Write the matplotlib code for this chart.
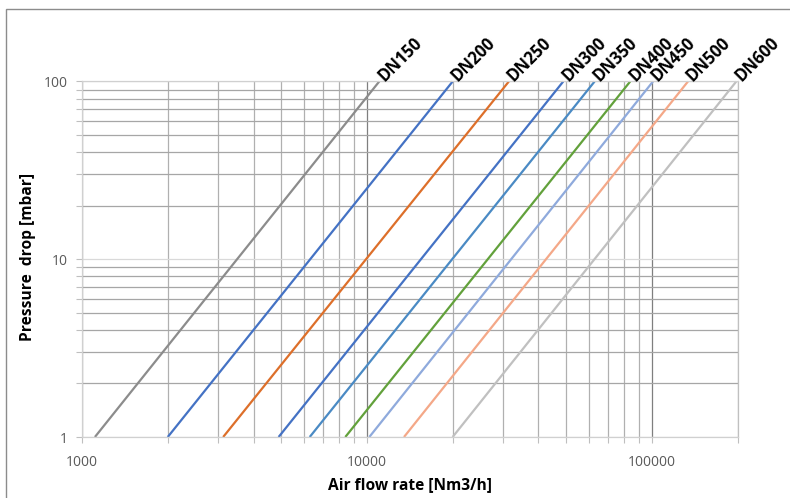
import matplotlib
matplotlib.use("Agg")
import matplotlib.pyplot as plt
from matplotlib.ticker import LogLocator, NullFormatter, FixedLocator, FixedFormatter
from matplotlib.patches import Rectangle
import numpy as np

# ---- data ----
sizes = ["DN150", "DN200", "DN250", "DN300", "DN350", "DN400", "DN450", "DN500", "DN600"]
flow_at_1mbar = [1110, 2000, 3130, 4900, 6300, 8400, 10200, 13500, 20000]
flow_at_100mbar = [11050, 20000, 31500, 48900, 63000, 84000, 101000, 134000, 198000]
pressure_ends = [1, 100]
colors = ["#8c8c8c", "#4472c4", "#dd6f2a", "#4472c4", "#4a8ac4",
          "#62a13b", "#8faadc", "#f4a888", "#c0c0c0"]
x_ticks = [1000, 10000, 100000]
x_tick_labels = ["1000", "10000", "100000"]
y_ticks = [1, 10, 100]
y_tick_labels = ["1", "10", "100"]

W, H = 790, 498
fig = plt.figure(figsize=(W / 100, H / 100), dpi=100)
plt.rcParams['font.family'] = ['Open Sans', 'DejaVu Sans']

# chart-area border (left & top visible)
fig.patches.append(Rectangle((6 / W, -0.1), 2, 1 - 9 / H + 0.1, transform=fig.transFigure,
                             fill=False, edgecolor="#8c8c8c", linewidth=1.0))

ax = fig.add_axes([82 / W, 1 - 437 / H, (737.5 - 82) / W, (437 - 81.5) / H])
ax.set_xscale("log")
ax.set_yscale("log")
ax.set_xlim(1000, 200000)
ax.set_ylim(1, 100)

# gridlines
ax.xaxis.set_major_locator(FixedLocator(x_ticks))
ax.xaxis.set_major_formatter(FixedFormatter(x_tick_labels))
ax.xaxis.set_minor_locator(LogLocator(base=10, subs=np.arange(2, 10)))
ax.xaxis.set_minor_formatter(NullFormatter())
ax.yaxis.set_major_locator(FixedLocator(y_ticks))
ax.yaxis.set_major_formatter(FixedFormatter(y_tick_labels))
ax.yaxis.set_minor_locator(LogLocator(base=10, subs=np.arange(2, 10)))
ax.yaxis.set_minor_formatter(NullFormatter())

ax.grid(True, which="major", axis="x", color="#7f7f7f", linewidth=0.9)
ax.grid(True, which="minor", axis="x", color="#b0b0b0", linewidth=0.9)
ax.grid(True, which="major", axis="y", color="#d9d9d9", linewidth=0.9)
ax.grid(True, which="minor", axis="y", color="#a6a6a6", linewidth=0.9)
ax.set_axisbelow(True)

for s in ax.spines.values():
    s.set_color("#d0d0d0")
    s.set_linewidth(0.9)
ax.spines["right"].set_color("#c0c0c0")

ax.tick_params(which="both", direction="out", length=4, width=0.8, color="#bfbfbf",
               labelsize=10, labelcolor="#595959", pad=6)
ax.tick_params(axis="x", which="major", pad=9)

for name, x0, x1, c in zip(sizes, flow_at_1mbar, flow_at_100mbar, colors):
    ax.plot([x0, x1], pressure_ends, color=c, linewidth=1.6, solid_capstyle="butt", clip_on=False)
    ax.annotate(name, xy=(x1, pressure_ends[1]), xytext=(3.5, 0), textcoords="offset points",
                rotation=45, rotation_mode="anchor", ha="left", va="baseline",
                fontsize=12, fontweight="bold", color="black", annotation_clip=False)

fig.text(410 / W, 1 - 485 / H, "Air flow rate [Nm3/h]", ha="center", va="center",
         fontsize=11.2, fontweight="bold")
fig.text(28 / W, 1 - 257 / H, "Pressure  drop [mbar]", ha="center", va="center",
         rotation=90, fontsize=11.2, fontweight="bold")

fig.savefig("out.png", dpi=100)
